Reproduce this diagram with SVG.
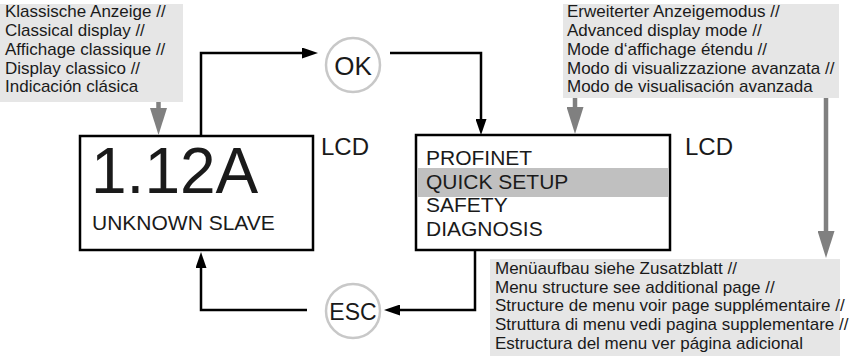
<svg xmlns="http://www.w3.org/2000/svg" width="854" height="359" viewBox="0 0 854 359">
<defs>
<style>
.t{font-family:"Liberation Sans",Arial,sans-serif;fill:#1a1a1a}
.note{font-size:17px}
.menu{font-size:21px}
.lcd{font-size:24px}
.box{fill:#fff;stroke:#000;stroke-width:2.5}
.bg{fill:#e6e6e6}
.key{fill:#fff;stroke:#c8c8c8;stroke-width:2.5}
.con{fill:none;stroke:#000;stroke-width:2.5}
.gcon{fill:none;stroke:#808080;stroke-width:4.5}
</style>
<marker id="ah" markerUnits="userSpaceOnUse" markerWidth="16" markerHeight="11" refX="0" refY="5.5" orient="auto" viewBox="0 0 16 11">
<path d="M0,0 L16,5.5 L0,11 z" fill="#000"/>
</marker>
<marker id="gah" markerUnits="userSpaceOnUse" markerWidth="27" markerHeight="17" refX="0" refY="8.5" orient="auto" viewBox="0 0 27 17">
<path d="M0,0 L27,8.5 L0,17 z" fill="#808080"/>
</marker>
</defs>
<rect width="854" height="359" fill="#fff"/>

<g id="note-classic">
<rect class="bg" x="0" y="4" width="183" height="98"/>
<text class="t note" x="5" y="17">Klassische Anzeige //</text>
<text class="t note" x="5" y="36">Classical display //</text>
<text class="t note" x="5" y="55">Affichage classique //</text>
<text class="t note" x="5" y="73.5">Display classico //</text>
<text class="t note" x="5" y="92">Indicación clásica</text>
</g>

<g id="note-advanced">
<rect class="bg" x="563" y="4" width="276" height="94"/>
<text class="t note" x="567" y="17">Erweiterter Anzeigemodus //</text>
<text class="t note" x="567" y="36">Advanced display mode //</text>
<text class="t note" x="567" y="55">Mode d‘affichage étendu //</text>
<text class="t note" x="567" y="73.5">Modo di visualizzazione avanzata //</text>
<text class="t note" x="567" y="92">Modo de visualisación avanzada</text>
</g>

<g id="note-menu">
<rect class="bg" x="490" y="259" width="350" height="97"/>
<text class="t note" x="495" y="274">Menüaufbau siehe Zusatzblatt //</text>
<text class="t note" x="495" y="292.7">Menu structure see additional page //</text>
<text class="t note" x="495" y="311.4">Structure de menu voir page supplémentaire //</text>
<text class="t note" x="495" y="330.1">Struttura di menu vedi pagina supplementare //</text>
<text class="t note" x="495" y="348.8">Estructura del menu ver página adicional</text>
</g>

<g id="lcd-classic">
<rect class="box" x="80" y="136" width="233" height="114"/>
<text class="t" x="91" y="193" font-size="64">1.12A</text>
<text class="t menu" x="92" y="230">UNKNOWN SLAVE</text>
<text class="t lcd" x="321" y="155">LCD</text>
</g>

<g id="lcd-advanced">
<rect class="box" x="416" y="135" width="254" height="115"/>
<rect x="417.5" y="168" width="251" height="29" fill="#c0c0c0"/>
<text class="t menu" x="426" y="164.5">PROFINET</text>
<text class="t menu" x="426" y="188.5">QUICK SETUP</text>
<text class="t menu" x="426" y="212">SAFETY</text>
<text class="t menu" x="426" y="235.5">DIAGNOSIS</text>
<text class="t lcd" x="685" y="155">LCD</text>
</g>

<g id="key-ok">
<circle class="key" cx="353" cy="65" r="27"/>
<text class="t" x="353" y="74.5" font-size="26" text-anchor="middle">OK</text>
</g>

<g id="key-esc">
<circle class="key" cx="353" cy="311" r="27"/>
<text class="t" x="353" y="319.5" font-size="23" text-anchor="middle">ESC</text>
</g>

<g id="connectors">
<path class="con" d="M201,136 V53 H302" marker-end="url(#ah)"/>
<path class="con" d="M390,53 H481 V119" marker-end="url(#ah)"/>
<path class="con" d="M475,250 V310 H400" marker-end="url(#ah)"/>
<path class="con" d="M307,310 H201 V268" marker-end="url(#ah)"/>
<path class="gcon" d="M158.5,102 V108" marker-end="url(#gah)"/>
<path class="gcon" d="M575,98 V107" marker-end="url(#gah)"/>
<path class="gcon" d="M826,98 V231" marker-end="url(#gah)"/>
</g>
</svg>
